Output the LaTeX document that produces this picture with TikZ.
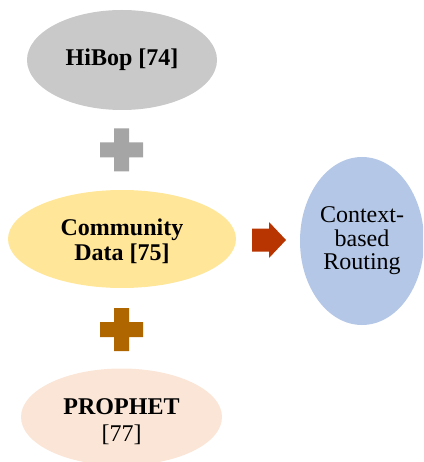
\documentclass[tikz,border=0pt]{standalone}
\usepackage{fontspec}
\setmainfont{Liberation Serif}
\usetikzlibrary{shapes.geometric}

\definecolor{hibopgray}{HTML}{C9C9C9}
\definecolor{plusgray}{HTML}{A5A5A5}
\definecolor{commyellow}{HTML}{FFE699}
\definecolor{arrowred}{HTML}{B83400}
\definecolor{plusbrown}{HTML}{AF6500}
\definecolor{ctxblue}{HTML}{B4C7E7}
\definecolor{prophetpeach}{HTML}{FBE5D6}

\tikzset{
  blob/.style={ellipse, inner sep=0pt, align=center,
    font=\fontsize{24}{25}\selectfont},
  caption/.style={inner sep=0pt, align=center,
    font=\fontsize{24}{27}\selectfont},
}

% a plus sign of half-size 21.5 and arm half-width 7.5, centred at (#1,#2)
\newcommand{\plusat}[3]{%
  \fill[#3] (#1-21.5,#2-7.5) -- (#1-7.5,#2-7.5) -- (#1-7.5,#2-21.5)
    -- (#1+7.5,#2-21.5) -- (#1+7.5,#2-7.5) -- (#1+21.5,#2-7.5)
    -- (#1+21.5,#2+7.5) -- (#1+7.5,#2+7.5) -- (#1+7.5,#2+21.5)
    -- (#1-7.5,#2+21.5) -- (#1-7.5,#2+7.5) -- (#1-21.5,#2+7.5) -- cycle;}

\begin{document}
\begin{tikzpicture}[x=1pt, y=-1pt]
  \useasboundingbox (0,0) rectangle (423,462);
  \begin{scope}
    \clip (0,0) rectangle (423,462);

    % source ellipses
    \node[blob, fill=hibopgray, minimum width=190pt, minimum height=100pt]
      (hibop) at (122,60) {\bfseries HiBop [74]};
    \node[blob, fill=commyellow, minimum width=228pt, minimum height=98pt]
      (community) at (122,239) {};
    \node[caption, font=\fontsize{24}{25}\selectfont]
      (communitytext) at (122,241.5) {\bfseries Community\\\bfseries Data [75]};
    \node[blob, fill=prophetpeach, minimum width=201pt, minimum height=97pt]
      (prophet) at (121.5,417) {};
    \node[caption] (prophettext) at (121.5,422) {\bfseries PROPHET\\{[77]}};

    % result
    \node[blob, fill=ctxblue, minimum width=124pt, minimum height=168pt,
      font=\fontsize{24}{23.5}\selectfont]
      (context) at (362,241) {Context-\\based\\Routing};

    % combining signs
    \plusat{121.5}{150}{plusgray}
    \plusat{121.5}{329.5}{plusbrown}

    % block arrow towards the result
    \coordinate (arrowtail) at (252,240);
    \fill[arrowred] (arrowtail) ++(0,-11.5) -- ++(17,0) -- ++(0,-6.5)
      -- (286,240) -- (269,258) -- (269,251.5) -- (252,251.5) -- cycle;
  \end{scope}
\end{tikzpicture}
\end{document}
